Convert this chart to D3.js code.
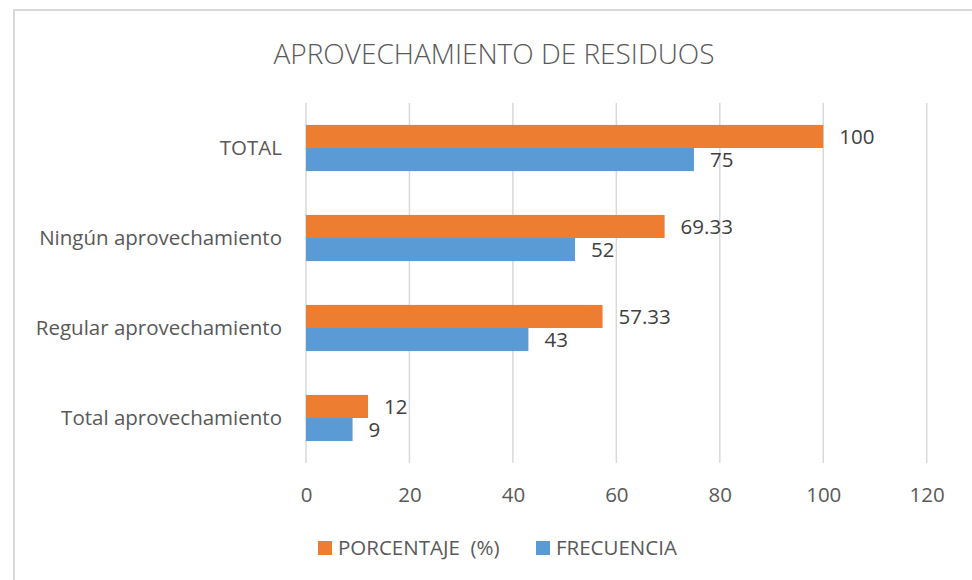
<!DOCTYPE html>
<html>
<head>
<meta charset="utf-8">
<script src="https://cdn.jsdelivr.net/npm/d3@7"></script>
<style>
  body { margin: 0; background: #fff; }
  text { font-family: "Open Sans", "Liberation Sans", sans-serif; fill: #595959; }
</style>
</head>
<body>
<svg width="972" height="580"></svg>
<script>
// Chart data
const categories = ["TOTAL", "Ningún aprovechamiento", "Regular aprovechamiento", "Total aprovechamiento"];
const porcentaje = [100, 69.33, 57.33, 12];
const frecuencia = [75, 52, 43, 9];
const seriesNames = ["PORCENTAJE  (%)", "FRECUENCIA"];
const xTicks = [0, 20, 40, 60, 80, 100, 120];

const colors = ["#ED7D31", "#5B9BD5"];
const fontSize = "20.5px";

const svg = d3.select("svg");

// outer chart border
svg.append("rect")
  .attr("x", 14).attr("y", 10)
  .attr("width", 980).attr("height", 600)
  .attr("fill", "none")
  .attr("stroke", "#d9d9d9")
  .attr("stroke-width", 2);

svg.append("text")
  .attr("x", 494).attr("y", 64)
  .attr("text-anchor", "middle")
  .style("font-size", "28px")
  .style("font-weight", 300)
  .text("APROVECHAMIENTO DE RESIDUOS");

const x = d3.scaleLinear().domain([0, 120]).range([306, 926.7]);
const y = d3.scaleBand().domain(categories).range([103, 463]);
const sub = d3.scaleBand().domain([0, 1]).range([0, y.bandwidth()]).paddingOuter(0.95).paddingInner(0);

// gridlines
svg.append("g")
  .selectAll("line")
  .data(xTicks)
  .enter()
  .append("line")
  .attr("x1", (d) => x(d)).attr("x2", (d) => x(d))
  .attr("y1", 103).attr("y2", 463)
  .attr("stroke", "#d9d9d9")
  .attr("stroke-width", 1.5);

// x axis labels
const xAxis = d3.axisBottom(x).tickValues(xTicks).tickSize(0).tickPadding(0);
svg.append("g")
  .attr("transform", "translate(0, 487)")
  .call(xAxis)
  .call((g) => g.select(".domain").remove())
  .selectAll("text")
  .style("font-family", "'Open Sans', sans-serif")
  .style("font-size", fontSize)
  .style("fill", "#595959");

// category labels
svg.append("g")
  .selectAll("text")
  .data(categories)
  .enter()
  .append("text")
  .attr("x", 282)
  .attr("y", (d) => y(d) + y.bandwidth() / 2)
  .attr("dy", "0.35em")
  .attr("text-anchor", "end")
  .style("font-size", fontSize)
  .text((d) => d);

// bars
const series = [porcentaje, frecuencia];
series.forEach((vals, s) => {
  const g = svg.append("g");
  g.selectAll("rect")
    .data(vals)
    .enter()
    .append("rect")
    .attr("x", x(0))
    .attr("y", (d, i) => y(categories[i]) + sub(s))
    .attr("width", (d) => x(d) - x(0))
    .attr("height", sub.bandwidth())
    .attr("fill", colors[s]);
  g.selectAll("text")
    .data(vals)
    .enter()
    .append("text")
    .attr("x", (d) => x(d) + 16)
    .attr("y", (d, i) => y(categories[i]) + sub(s) + sub.bandwidth() / 2)
    .attr("dy", "0.35em")
    .style("font-size", fontSize)
    .style("fill", "#404040")
    .text((d) => d);
});

// legend
const legend = svg.append("g").attr("transform", "translate(318, 541)");
const legendX = [0, 218];
seriesNames.forEach((name, i) => {
  legend.append("rect")
    .attr("x", legendX[i]).attr("y", 0)
    .attr("width", 14).attr("height", 14)
    .attr("fill", colors[i]);
  legend.append("text")
    .attr("x", legendX[i] + 20).attr("y", 7)
    .attr("dy", "0.35em")
    .style("font-size", fontSize)
    .style("white-space", "pre")
    .attr("xml:space", "preserve")
    .text(name);
});
</script>
</body>
</html>
